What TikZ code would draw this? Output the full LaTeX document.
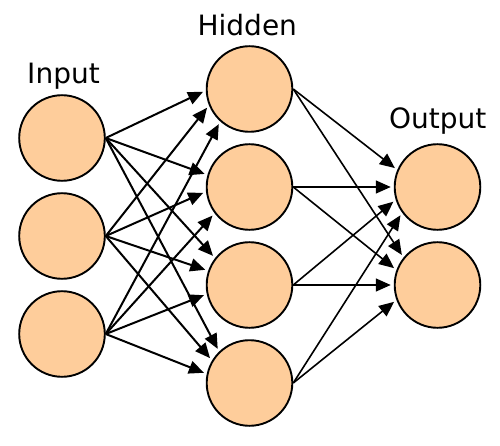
\documentclass[tikz,border=0pt]{standalone}
\usepackage{fontspec}
\setmainfont{DejaVu Sans}
\usetikzlibrary{arrows.meta}
\definecolor{neuronfill}{RGB}{254,205,155}
\begin{document}
\begin{tikzpicture}[x=1pt,y=-1pt,
  neuron/.style={circle,draw=black,line width=1.9pt,fill=neuronfill,inner sep=0pt,minimum size=85.6pt},
  conn/.style={line width=2pt,-{Triangle[length=15pt,width=13pt]},shorten >=3pt},
  connb/.style={conn,line width=1.6pt},
  layer/.style={font=\fontsize{28}{30}\selectfont,anchor=base,inner sep=0pt}]
\useasboundingbox (0,0) rectangle (500,446);
% labels
\node[layer] (tin) at (63.5,84) {Input};
\node[layer] (thid) at (247.3,36) {Hidden};
\node[layer] (tout) at (437.8,129) {Output};
% neurons
\node[neuron] (i1) at (62,138) {};
\node[neuron] (i2) at (62,236) {};
\node[neuron] (i3) at (62,334) {};
\node[neuron] (h1) at (249.5,89) {};
\node[neuron] (h2) at (249.5,187) {};
\node[neuron] (h3) at (249.5,285) {};
\node[neuron] (h4) at (249.5,383) {};
\node[neuron] (o1) at (437.5,187) {};
\node[neuron] (o2) at (437.5,285) {};
% input -> hidden
\draw[conn] (i1.east) -- (h1.182);
\draw[conn] (i2.east) -- (h1.202);
\draw[conn] (i3.east) -- (h1.228);
\draw[conn] (i1.east) -- (h2.164);
\draw[conn] (i2.east) -- (h2.186);
\draw[conn] (i3.east) -- (h2.217);
\draw[conn] (i1.east) -- (h3.142);
\draw[conn] (i2.east) -- (h3.161);
\draw[conn] (i3.east) -- (h3.192);
\draw[conn] (i1.east) -- (h4.134);
\draw[conn] (i2.east) -- (h4.149);
\draw[conn] (i3.east) -- (h4.168);
% hidden -> output
\draw[connb] (h1.east) -- (o1.157);
\draw[connb] (h2.east) -- (o1.180);
\draw[connb] (h3.east) -- (o1.197);
\draw[connb] (h4.east) -- (o1.216);
\draw[connb] (h1.east) -- (o2.141);
\draw[connb] (h2.east) -- (o2.160);
\draw[connb] (h3.east) -- (o2.180);
\draw[connb] (h4.east) -- (o2.200);
\end{tikzpicture}
\end{document}
